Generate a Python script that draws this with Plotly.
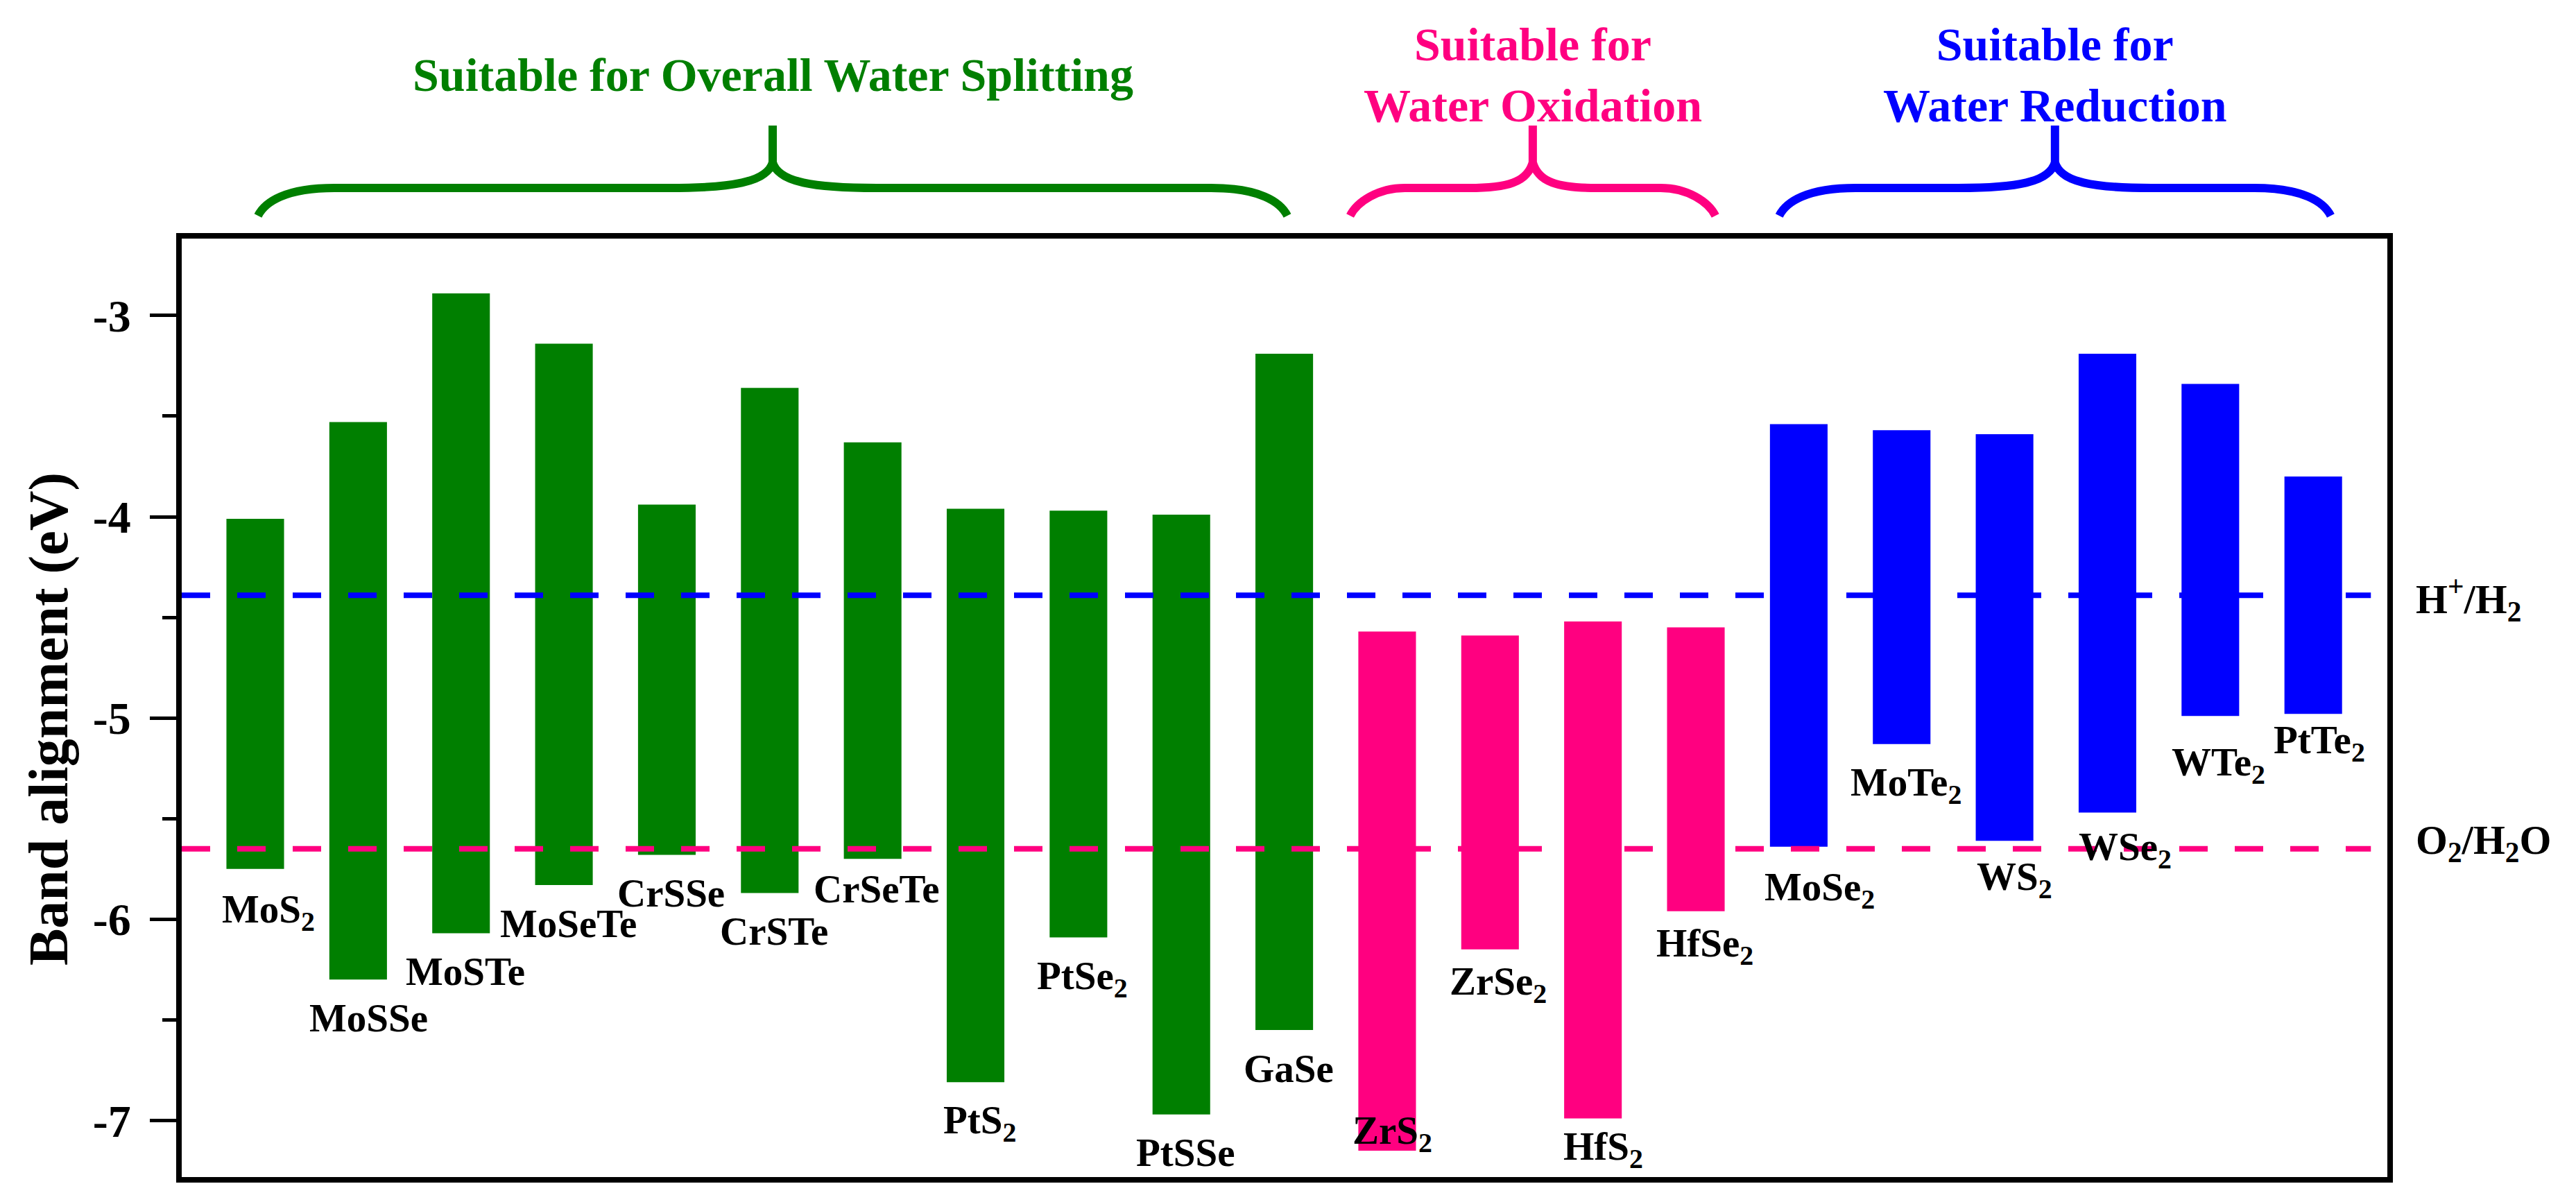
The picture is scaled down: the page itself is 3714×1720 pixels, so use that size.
import plotly.graph_objects as go

# band edges (eV): conduction band top of bar, valence band bottom
overall_names = ['MoS<sub>2</sub>', 'MoSSe', 'MoSTe', 'MoSeTe', 'CrSSe', 'CrSTe', 'CrSeTe',
                 'PtS<sub>2</sub>', 'PtSe<sub>2</sub>', 'PtSSe', 'GaSe']
overall_cbm = [-4.01, -3.53, -2.89, -3.14, -3.94, -3.36, -3.63, -3.96, -3.97, -3.99, -3.19]
overall_vbm = [-5.75, -6.30, -6.07, -5.83, -5.68, -5.87, -5.70, -6.81, -6.09, -6.97, -6.55]

oxidation_names = ['ZrS<sub>2</sub>', 'ZrSe<sub>2</sub>', 'HfS<sub>2</sub>', 'HfSe<sub>2</sub>']
oxidation_cbm = [-4.57, -4.59, -4.52, -4.55]
oxidation_vbm = [-7.15, -6.15, -6.99, -5.96]

reduction_names = ['MoSe<sub>2</sub>', 'MoTe<sub>2</sub>', 'WS<sub>2</sub>', 'WSe<sub>2</sub>',
                   'WTe<sub>2</sub>', 'PtTe<sub>2</sub>']
reduction_cbm = [-3.54, -3.57, -3.59, -3.19, -3.34, -3.80]
reduction_vbm = [-5.64, -5.13, -5.61, -5.47, -4.99, -4.98]

# redox potentials
h_level = -4.39
o_level = -5.65

tick_vals = [-7, -6, -5, -4, -3]
tick_text = ['-7', '-6', '-5', '-4', '-3']

groups = [
    ('Suitable for Overall Water Splitting', '#007f00', overall_names, overall_cbm, overall_vbm),
    ('Suitable for<br>Water Oxidation', '#ff0080', oxidation_names, oxidation_cbm, oxidation_vbm),
    ('Suitable for<br>Water Reduction', '#0000ff', reduction_names, reduction_cbm, reduction_vbm),
]

# layout geometry (pixels)
W, H = 3714, 1720
ML, MR, MT, MB = 254, 280, 336, 31
PW, PH = W - ML - MR, H - MT - MB
x_range = [-0.7145, 20.72]
y_range = [-7.281, -2.618]
FONT = 'Liberation Serif'

# brace spans in bar units
brace_spans = [(0.027, 10.03), (10.64, 14.19), (14.81, 20.17)]

# label tweaks: (dx in bar units, gap below valence band in eV)
label_tweak = {
    'MoS<sub>2</sub>': (0.13, 0.20), 'MoSSe': (0.10, 0.19), 'CrSeTe': (0.04, 0.15),
    'ZrS<sub>2</sub>': (0.05, -0.10), 'ZrSe<sub>2</sub>': (0.08, 0.16), 'HfS<sub>2</sub>': (0.10, 0.14),
    'HfSe<sub>2</sub>': (0.09, 0.16), 'MoSe<sub>2</sub>': (0.20, 0.20), 'WS<sub>2</sub>': (0.10, 0.18),
    'WSe<sub>2</sub>': (0.17, 0.17), 'WTe<sub>2</sub>': (0.08, 0.23), 'PtTe<sub>2</sub>': (0.06, 0.13),
}


def px_x(x):
    return ML + (x - x_range[0]) / (x_range[1] - x_range[0]) * PW


def paper_x(px):
    return (px - ML) / PW


def paper_y(py):
    return (H - MB - py) / PH


def brace_path(x0, x1):
    # curly brace drawn as one stroke, built in pixels then turned into paper coords
    xm = (x0 + x1) / 2
    half = (x1 - x0) / 2
    ec = min(110, 0.3 * half)
    mc = min(150, 0.35 * half)
    yb, ya, yt, ys = 303, 263, 226, 173
    pts = [
        ('M', [(x0, yb)]),
        ('C', [(x0 + 10, yb - 20), (x0 + 40, ya), (x0 + ec, ya)]),
        ('L', [(xm - mc, ya)]),
        ('C', [(xm - 0.4 * mc, ya), (xm - 8, ya - 8), (xm, yt)]),
        ('L', [(xm, ys)]),
        ('M', [(xm, yt)]),
        ('C', [(xm + 8, ya - 8), (xm + 0.4 * mc, ya), (xm + mc, ya)]),
        ('L', [(x1 - ec, ya)]),
        ('C', [(x1 - 40, ya), (x1 - 10, yb - 20), (x1, yb)]),
    ]
    s = ''
    for cmd, ps in pts:
        s += cmd + ' ' + ' '.join('%.5f,%.5f' % (paper_x(a), paper_y(b)) for a, b in ps) + ' '
    return s.strip()


fig = go.Figure()
annotations = []
shapes = []

start = 0
for (title, color, names, cbm, vbm), (b0, b1) in zip(groups, brace_spans):
    xs = list(range(start, start + len(names)))
    fig.add_trace(go.Bar(
        x=xs, y=[c - v for c, v in zip(cbm, vbm)], base=vbm, width=0.56,
        marker=dict(color=color, line=dict(width=0)), showlegend=False, hoverinfo='skip'))
    for x, n, v in zip(xs, names, vbm):
        dx, gap = label_tweak.get(n, (0.04, 0.19))
        annotations.append(dict(
            x=x + dx, y=v - gap, xref='x', yref='y', text=n, showarrow=False,
            xanchor='center', yanchor='middle', yshift=-4 if '<sub>' in n else 0,
            font=dict(family=FONT, size=57, color='black', weight='bold')))
    shapes.append(dict(type='path', xref='paper', yref='paper', layer='above',
                       path=brace_path(px_x(b0), px_x(b1)),
                       line=dict(color=color, width=12)))
    annotations.append(dict(
        x=(b0 + b1) / 2, y=paper_y(100), xref='x', yref='paper', text=title, showarrow=False,
        xanchor='center', yanchor='middle',
        font=dict(family=FONT, size=68, color=color, weight='bold')))
    start += len(names)

# redox reference lines
for level, color in [(h_level, '#0000ff'), (o_level, '#ff0080')]:
    fig.add_trace(go.Scatter(
        x=[x_range[0], 20.56], y=[level, level], mode='lines', showlegend=False, hoverinfo='skip',
        line=dict(color=color, width=8, dash='41px,39px')))

annotations.append(dict(
    x=paper_x(3473), y=h_level - 0.02, xref='paper', yref='y', text='H<sup>+</sup>/H<sub>2</sub>',
    showarrow=False, xanchor='left', yanchor='middle',
    font=dict(family=FONT, size=59, color='black', weight='bold')))
annotations.append(dict(
    x=paper_x(3473), y=o_level + 0.03, xref='paper', yref='y', text='O<sub>2</sub>/H<sub>2</sub>O',
    showarrow=False, xanchor='left', yanchor='middle',
    font=dict(family=FONT, size=59, color='black', weight='bold')))

# y axis title
annotations.append(dict(
    x=paper_x(62), y=paper_y(1029), xref='paper', yref='paper', text='Band alignment (eV)',
    showarrow=False, textangle=-90, xanchor='center', yanchor='middle',
    font=dict(family=FONT, size=80, color='black', weight='bold')))

fig.update_layout(
    width=W, height=H,
    margin=dict(l=ML, r=MR, t=MT, b=MB, autoexpand=False),
    plot_bgcolor='white', paper_bgcolor='white',
    barmode='overlay',
    annotations=annotations, shapes=shapes,
    font=dict(family=FONT, color='black'),
)
fig.update_xaxes(range=x_range, showline=True, mirror=True, linewidth=8, linecolor='black',
                 showgrid=False, zeroline=False, showticklabels=False, ticks='')
fig.update_yaxes(range=y_range, showline=True, mirror=True, linewidth=8, linecolor='black',
                 showgrid=False, zeroline=False, ticks='outside', ticklen=38, tickwidth=5,
                 tickcolor='black', tickvals=tick_vals, ticktext=tick_text, ticklabelstandoff=14,
                 tickfont=dict(family=FONT, size=66, color='black', weight='bold'),
                 minor=dict(tickvals=[-7.5, -6.5, -5.5, -4.5, -3.5], ticks='outside',
                            ticklen=20, tickwidth=5, tickcolor='black'))

fig.write_html("out.html")
